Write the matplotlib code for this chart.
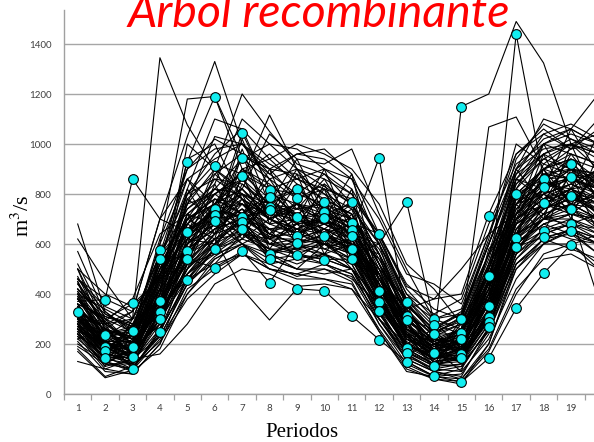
"""
Arbol recombinante: escenarios de caudal (lineas negras) y nodos del arbol (puntos cian).
"""

import matplotlib.pyplot as plt

plt.rcParams["mathtext.fontset"] = "stix"

periodos = list(range(1, 21))
etiquetas_x = [str(p) for p in range(1, 20)]
ticks_y = [0, 200, 400, 600, 800, 1000, 1200, 1400]

# Escenarios de caudal (m3/s), uno por fila, periodos 1..20
escenarios = [
    [330, 180, 150, 330, 600, 720, 1045, 820, 700, 640, 580, 400, 180, 120, 160, 300, 600, 700, 760, 700],
    [410, 240, 210, 520, 930, 1190, 900, 750, 640, 700, 770, 520, 260, 150, 200, 420, 720, 860, 921, 840],
    [290, 150, 100, 250, 455, 580, 680, 560, 600, 540, 500, 330, 130, 72, 48, 143, 343, 483, 596, 640],
    [250, 110, 300, 1345, 1076, 900, 820, 700, 760, 680, 640, 420, 230, 160, 250, 470, 620, 700, 820, 900],
    [370, 378, 860, 700, 650, 740, 709, 735, 707, 727, 683, 641, 367, 240, 300, 472, 800, 860, 868, 800],
    [520, 300, 250, 600, 1180, 1190, 950, 900, 780, 820, 700, 560, 300, 200, 260, 480, 760, 900, 980, 1000],
    [450, 260, 330, 700, 1030, 1330, 1000, 860, 900, 760, 720, 500, 280, 180, 220, 400, 680, 820, 900, 880],
    [300, 200, 170, 420, 760, 900, 1200, 1050, 920, 880, 800, 620, 380, 250, 290, 520, 820, 1000, 1060, 1000],
    [270, 145, 147, 299, 572, 760, 860, 1116, 900, 830, 760, 600, 360, 240, 310, 600, 900, 980, 1000, 940],
    [350, 190, 130, 260, 500, 620, 420, 296, 421, 413, 312, 218, 129, 72, 100, 267, 590, 653, 681, 720],
    [380, 220, 180, 450, 650, 717, 689, 540, 555, 538, 540, 331, 165, 113, 145, 289, 590, 627, 653, 600],
    [310, 170, 120, 327, 540, 506, 571, 445, 603, 633, 580, 368, 186, 163, 222, 353, 624, 765, 740, 680],
    [200, 130, 90, 180, 400, 520, 640, 560, 500, 600, 520, 300, 140, 90, 60, 200, 500, 600, 650, 560],
    [440, 280, 220, 540, 700, 860, 780, 700, 740, 700, 650, 500, 300, 220, 1150, 1200, 1490, 1324, 1000, 900],
    [330, 200, 150, 400, 640, 700, 760, 680, 640, 620, 580, 420, 260, 200, 180, 400, 1440, 860, 800, 720],
    [300, 160, 140, 350, 600, 680, 720, 620, 680, 640, 600, 440, 280, 180, 260, 1068, 1108, 900, 760, 700],
    [230, 100, 80, 200, 420, 500, 560, 520, 470, 500, 450, 250, 100, 60, 50, 170, 400, 560, 600, 520],
    [340, 240, 270, 560, 900, 980, 1000, 880, 800, 760, 650, 945, 300, 200, 220, 420, 800, 900, 940, 860],
    [280, 180, 200, 480, 700, 760, 820, 720, 700, 640, 560, 600, 770, 290, 180, 380, 700, 827, 868, 820],
    [680, 330, 250, 520, 560, 700, 720, 640, 600, 560, 500, 380, 200, 140, 160, 330, 600, 700, 740, 660],
    [620, 450, 300, 480, 640, 740, 800, 700, 760, 720, 640, 460, 320, 210, 240, 450, 760, 850, 900, 820],
    [570, 320, 260, 380, 580, 660, 700, 760, 720, 680, 620, 380, 220, 180, 200, 360, 640, 720, 760, 740],
    [500, 280, 200, 360, 520, 640, 680, 600, 580, 620, 560, 340, 200, 140, 170, 320, 600, 680, 720, 700],
    [460, 330, 240, 420, 560, 620, 640, 580, 540, 560, 600, 400, 240, 150, 130, 280, 560, 640, 680, 640],
    [420, 290, 190, 330, 480, 600, 700, 640, 600, 640, 680, 460, 260, 190, 210, 440, 700, 780, 800, 780],
    [400, 250, 160, 300, 460, 580, 620, 700, 660, 600, 620, 420, 280, 160, 150, 300, 560, 760, 720, 700],
    [390, 230, 175, 280, 520, 600, 700, 740, 680, 700, 640, 440, 250, 130, 140, 320, 640, 700, 680, 660],
    [360, 210, 140, 230, 440, 550, 620, 580, 560, 540, 500, 320, 170, 110, 120, 250, 500, 620, 640, 600],
    [350, 170, 110, 210, 380, 480, 560, 500, 480, 520, 480, 300, 150, 100, 90, 220, 460, 600, 660, 620],
    [340, 260, 230, 320, 500, 640, 760, 700, 640, 680, 700, 520, 330, 230, 200, 380, 680, 760, 820, 840],
    [320, 220, 100, 250, 460, 600, 720, 800, 760, 700, 600, 400, 200, 140, 180, 340, 620, 740, 780, 760],
    [310, 190, 160, 420, 660, 760, 900, 820, 860, 900, 820, 620, 400, 280, 240, 500, 860, 960, 1020, 960],
    [290, 210, 210, 470, 720, 820, 940, 860, 780, 840, 760, 560, 340, 230, 280, 540, 880, 1040, 980, 1060],
    [280, 160, 240, 470, 780, 880, 960, 900, 960, 980, 880, 640, 420, 300, 340, 640, 960, 1040, 1080, 1020],
    [260, 140, 170, 380, 680, 800, 860, 760, 820, 740, 700, 580, 360, 260, 300, 560, 840, 940, 900, 880],
    [250, 120, 120, 320, 620, 760, 820, 700, 660, 720, 660, 480, 300, 200, 240, 480, 760, 880, 860, 820],
    [240, 150, 130, 280, 560, 700, 780, 640, 600, 660, 620, 440, 240, 170, 190, 400, 720, 840, 820, 780],
    [220, 130, 100, 240, 520, 660, 740, 600, 560, 600, 560, 380, 180, 120, 130, 300, 640, 760, 740, 700],
    [210, 90, 80, 200, 480, 620, 700, 560, 520, 560, 520, 340, 160, 90, 70, 260, 580, 700, 700, 660],
    [180, 70, 110, 230, 440, 580, 660, 540, 500, 500, 470, 280, 120, 70, 80, 240, 540, 660, 620, 600],
    [170, 65, 95, 220, 400, 540, 600, 500, 480, 460, 440, 260, 110, 60, 40, 200, 520, 620, 580, 540],
    [130, 100, 140, 160, 280, 440, 500, 480, 430, 440, 420, 250, 90, 70, 60, 180, 420, 540, 560, 500],
    [360, 300, 360, 460, 720, 800, 880, 820, 700, 660, 600, 480, 290, 220, 260, 500, 800, 900, 960, 920],
    [300, 280, 300, 560, 800, 860, 840, 760, 740, 760, 700, 520, 350, 260, 330, 600, 880, 960, 1000, 960],
    [270, 240, 260, 600, 860, 940, 1000, 900, 880, 800, 740, 600, 400, 320, 380, 680, 920, 1000, 1040, 1000],
    [460, 380, 330, 480, 800, 920, 880, 960, 860, 820, 780, 640, 430, 380, 400, 720, 960, 1060, 980, 1100],
    [400, 340, 280, 380, 700, 760, 940, 1000, 980, 900, 860, 700, 480, 440, 360, 640, 900, 1020, 1060, 1200],
    [500, 400, 350, 460, 580, 700, 820, 1040, 940, 920, 980, 720, 500, 300, 320, 600, 860, 1000, 960, 920],
    [360, 310, 280, 500, 620, 740, 900, 940, 1000, 960, 900, 760, 520, 420, 280, 560, 940, 1080, 1020, 980],
    [330, 260, 220, 560, 740, 840, 1100, 1000, 900, 860, 800, 640, 440, 340, 300, 600, 900, 1100, 1060, 1000],
    [300, 230, 250, 620, 900, 1020, 960, 880, 960, 940, 860, 600, 380, 270, 320, 620, 1000, 920, 1000, 1040],
    [260, 200, 190, 540, 820, 1100, 1060, 820, 800, 880, 760, 560, 360, 240, 240, 560, 820, 940, 1000, 960],
    [240, 170, 150, 480, 760, 1030, 1000, 920, 860, 800, 700, 480, 300, 200, 230, 500, 780, 900, 940, 900],
    [300, 200, 160, 440, 800, 960, 1060, 940, 840, 780, 720, 540, 320, 210, 260, 520, 840, 960, 900, 860],
    [320, 210, 170, 400, 1000, 900, 800, 760, 700, 720, 660, 480, 260, 180, 200, 440, 740, 820, 860, 820],
    [280, 180, 150, 400, 940, 1000, 780, 700, 640, 680, 620, 420, 240, 170, 180, 420, 700, 800, 840, 800],
    [350, 230, 200, 460, 580, 660, 700, 630, 640, 600, 560, 400, 220, 160, 170, 360, 660, 760, 800, 760],
    [380, 250, 230, 420, 600, 680, 740, 680, 700, 660, 600, 420, 240, 170, 190, 380, 680, 740, 780, 740],
    [340, 200, 180, 380, 560, 640, 720, 660, 660, 640, 580, 380, 230, 150, 180, 340, 620, 720, 760, 700],
    [320, 180, 160, 360, 540, 620, 680, 620, 620, 600, 540, 360, 200, 140, 160, 320, 580, 680, 720, 680],
    [270, 160, 140, 330, 500, 600, 660, 600, 600, 580, 540, 350, 190, 130, 150, 310, 560, 660, 700, 640],
    [240, 140, 120, 300, 480, 580, 640, 560, 580, 560, 500, 320, 180, 120, 140, 300, 540, 640, 680, 620],
    [190, 120, 100, 260, 440, 540, 600, 520, 540, 520, 480, 300, 160, 100, 120, 280, 520, 620, 660, 600],
    [420, 320, 270, 520, 700, 780, 760, 720, 760, 740, 660, 480, 280, 200, 240, 460, 760, 840, 860, 820],
    [460, 350, 300, 560, 680, 820, 800, 740, 720, 780, 720, 520, 320, 240, 280, 500, 780, 880, 900, 840],
    [380, 280, 330, 700, 860, 760, 700, 660, 680, 700, 640, 460, 270, 190, 230, 440, 720, 800, 840, 780],
    [440, 310, 270, 480, 620, 700, 640, 600, 620, 660, 640, 500, 380, 300, 260, 420, 680, 760, 820, 760],
    [300, 290, 380, 640, 720, 680, 600, 560, 600, 620, 600, 460, 340, 380, 500, 640, 720, 820, 860, 800],
    [250, 200, 250, 500, 660, 720, 660, 580, 580, 600, 580, 420, 300, 260, 320, 560, 700, 780, 880, 860],
    [380, 290, 200, 340, 480, 560, 640, 620, 560, 520, 460, 360, 240, 210, 160, 380, 640, 700, 720, 380],
    [290, 250, 220, 380, 520, 560, 600, 540, 500, 480, 500, 380, 200, 150, 140, 300, 600, 680, 640, 560],
    [260, 190, 210, 340, 460, 520, 560, 500, 460, 460, 420, 300, 170, 120, 110, 260, 520, 600, 600, 500],
    [450, 180, 260, 420, 820, 640, 980, 700, 880, 620, 820, 380, 300, 120, 260, 360, 760, 640, 900, 700],
    [300, 280, 120, 560, 640, 900, 700, 900, 640, 840, 600, 560, 200, 260, 140, 520, 680, 960, 740, 900],
    [260, 140, 220, 320, 720, 560, 880, 620, 780, 560, 700, 340, 240, 100, 200, 300, 820, 700, 1000, 760],
    [400, 210, 140, 380, 560, 840, 640, 820, 600, 760, 520, 480, 160, 200, 120, 400, 620, 900, 700, 960],
    [340, 160, 280, 300, 680, 620, 960, 680, 840, 700, 880, 440, 320, 160, 280, 440, 900, 760, 960, 820],
    [220, 260, 160, 460, 520, 780, 720, 860, 700, 900, 640, 600, 260, 220, 180, 580, 720, 1000, 820, 1040],
    [500, 230, 300, 360, 780, 700, 1020, 760, 940, 720, 760, 420, 360, 140, 300, 380, 860, 820, 1060, 880],
    [280, 120, 180, 280, 600, 680, 800, 580, 720, 640, 600, 300, 200, 130, 150, 340, 700, 760, 820, 720],
    [360, 200, 110, 340, 500, 760, 660, 760, 680, 820, 560, 500, 220, 180, 90, 460, 640, 880, 760, 880],
    [420, 300, 200, 500, 740, 820, 760, 640, 760, 600, 720, 400, 280, 150, 220, 420, 780, 720, 880, 640],
    [230, 170, 240, 260, 620, 600, 840, 740, 600, 780, 540, 360, 180, 240, 160, 320, 660, 800, 720, 800],
    [310, 150, 130, 420, 680, 760, 620, 800, 720, 660, 740, 460, 240, 110, 240, 480, 740, 860, 940, 780],
    [470, 260, 180, 360, 600, 880, 780, 720, 900, 700, 640, 540, 340, 200, 180, 520, 860, 780, 840, 900],
    [380, 220, 260, 540, 860, 700, 900, 840, 740, 860, 680, 420, 260, 180, 260, 400, 700, 920, 880, 840],
    [290, 130, 160, 300, 540, 720, 600, 660, 540, 620, 500, 280, 140, 90, 110, 260, 560, 720, 660, 620],
    [350, 240, 200, 460, 700, 640, 780, 600, 680, 580, 620, 460, 300, 220, 200, 460, 820, 740, 800, 740],
    [260, 180, 120, 360, 640, 800, 720, 780, 820, 740, 700, 520, 280, 160, 210, 440, 720, 860, 780, 860],
    [330, 190, 230, 400, 560, 680, 860, 720, 660, 700, 580, 440, 220, 140, 170, 360, 640, 820, 900, 780],
    [410, 270, 150, 380, 620, 740, 700, 560, 620, 660, 560, 360, 190, 160, 130, 380, 600, 700, 800, 720],
    [270, 200, 190, 500, 760, 800, 880, 780, 700, 680, 760, 560, 330, 210, 240, 500, 780, 900, 860, 880],
    [240, 110, 140, 330, 580, 660, 740, 640, 700, 640, 580, 400, 210, 140, 190, 380, 700, 780, 820, 760],
    [390, 230, 170, 440, 660, 700, 800, 700, 640, 720, 680, 480, 260, 190, 200, 420, 760, 800, 740, 820],
    [320, 170, 190, 360, 600, 740, 760, 660, 620, 600, 540, 420, 250, 170, 150, 330, 660, 740, 800, 700],
    [280, 210, 150, 400, 700, 780, 720, 620, 660, 700, 620, 440, 230, 150, 210, 420, 720, 820, 760, 800],
]

# Nodos del arbol recombinante, por periodo (1..19)
nodos = [
    [330],
    [378, 236, 189, 172, 146],
    [860, 365, 253, 189, 147, 100],
    [576, 539, 372, 327, 299, 250],
    [930, 650, 572, 540, 455],
    [1190, 912, 740, 717, 691, 580, 506],
    [1045, 943, 873, 709, 689, 661, 571],
    [816, 789, 749, 735, 562, 540, 445],
    [820, 784, 707, 633, 603, 555, 421],
    [770, 727, 705, 633, 538, 413],
    [770, 683, 656, 634, 580, 540, 312],
    [945, 641, 411, 368, 331, 218],
    [770, 367, 314, 296, 186, 165, 129],
    [300, 275, 240, 163, 113, 72],
    [1150, 300, 246, 222, 160, 145, 48],
    [712, 472, 353, 309, 289, 267, 143],
    [1440, 800, 624, 590, 343],
    [860, 827, 765, 653, 627, 483],
    [921, 868, 792, 740, 681, 653, 596],
]

W, H = 594, 442
fig = plt.figure(figsize=(W / 100, H / 100), dpi=100)
ax = fig.add_axes([64 / W, 1 - 394 / H, 1 - 64 / W, 384 / H])

for esc in escenarios:
    ax.plot(periodos, esc, color="black", linewidth=0.8, zorder=2)

for i, vals in enumerate(nodos):
    ax.plot([i + 1] * len(vals), vals, linestyle="none", marker="o",
            markersize=7, markerfacecolor="#12EEF0", markeredgecolor="black",
            markeredgewidth=0.8, zorder=3)

ax.set_xlim(0.5, 19.84)
ax.set_ylim(0, 1536)
ax.set_yticks(ticks_y)
ax.set_xticks(range(1, 20))
ax.set_xticklabels(etiquetas_x)
ax.set_xticks([k + 0.5 for k in range(0, 20)], minor=True)
ax.tick_params(axis="x", which="major", length=0, pad=7, labelsize=7, labelcolor="#404040")
ax.tick_params(axis="x", which="minor", length=4, width=0.9, color="#A0A0A0", direction="out")
ax.tick_params(axis="y", length=0, pad=9, labelsize=7, labelcolor="#404040")
for lab in ax.get_xticklabels() + ax.get_yticklabels():
    lab.set_family(["Lato", "DejaVu Sans"])

ax.grid(axis="y", color="#A6A6A6", linewidth=1.0, zorder=0)
ax.set_axisbelow(True)
for side in ["top", "right"]:
    ax.spines[side].set_visible(False)
for side in ["left", "bottom"]:
    ax.spines[side].set_color("#A0A0A0")
    ax.spines[side].set_linewidth(1.0)

fig.text(23 / W, 1 - 216 / H, r"m$^{3}$/s", rotation=90, ha="center", va="center",
         fontsize=16, family=["Liberation Serif", "DejaVu Serif"])
fig.text(302 / W, 1 - 437 / H, "Periodos", ha="center", va="baseline",
         fontsize=15, family=["Liberation Serif", "DejaVu Serif"])

titulo = fig.text(128 / W, 1 - 27 / H, "Arbol recombinante", ha="left", va="baseline",
                  fontsize=22, style="italic", color="red",
                  family=["Lato", "DejaVu Sans"], zorder=10)
fig.canvas.draw()
ancho = titulo.get_window_extent().width
titulo.set_fontsize(22 * 382 / ancho)

fig.savefig("out.png", dpi=100)
